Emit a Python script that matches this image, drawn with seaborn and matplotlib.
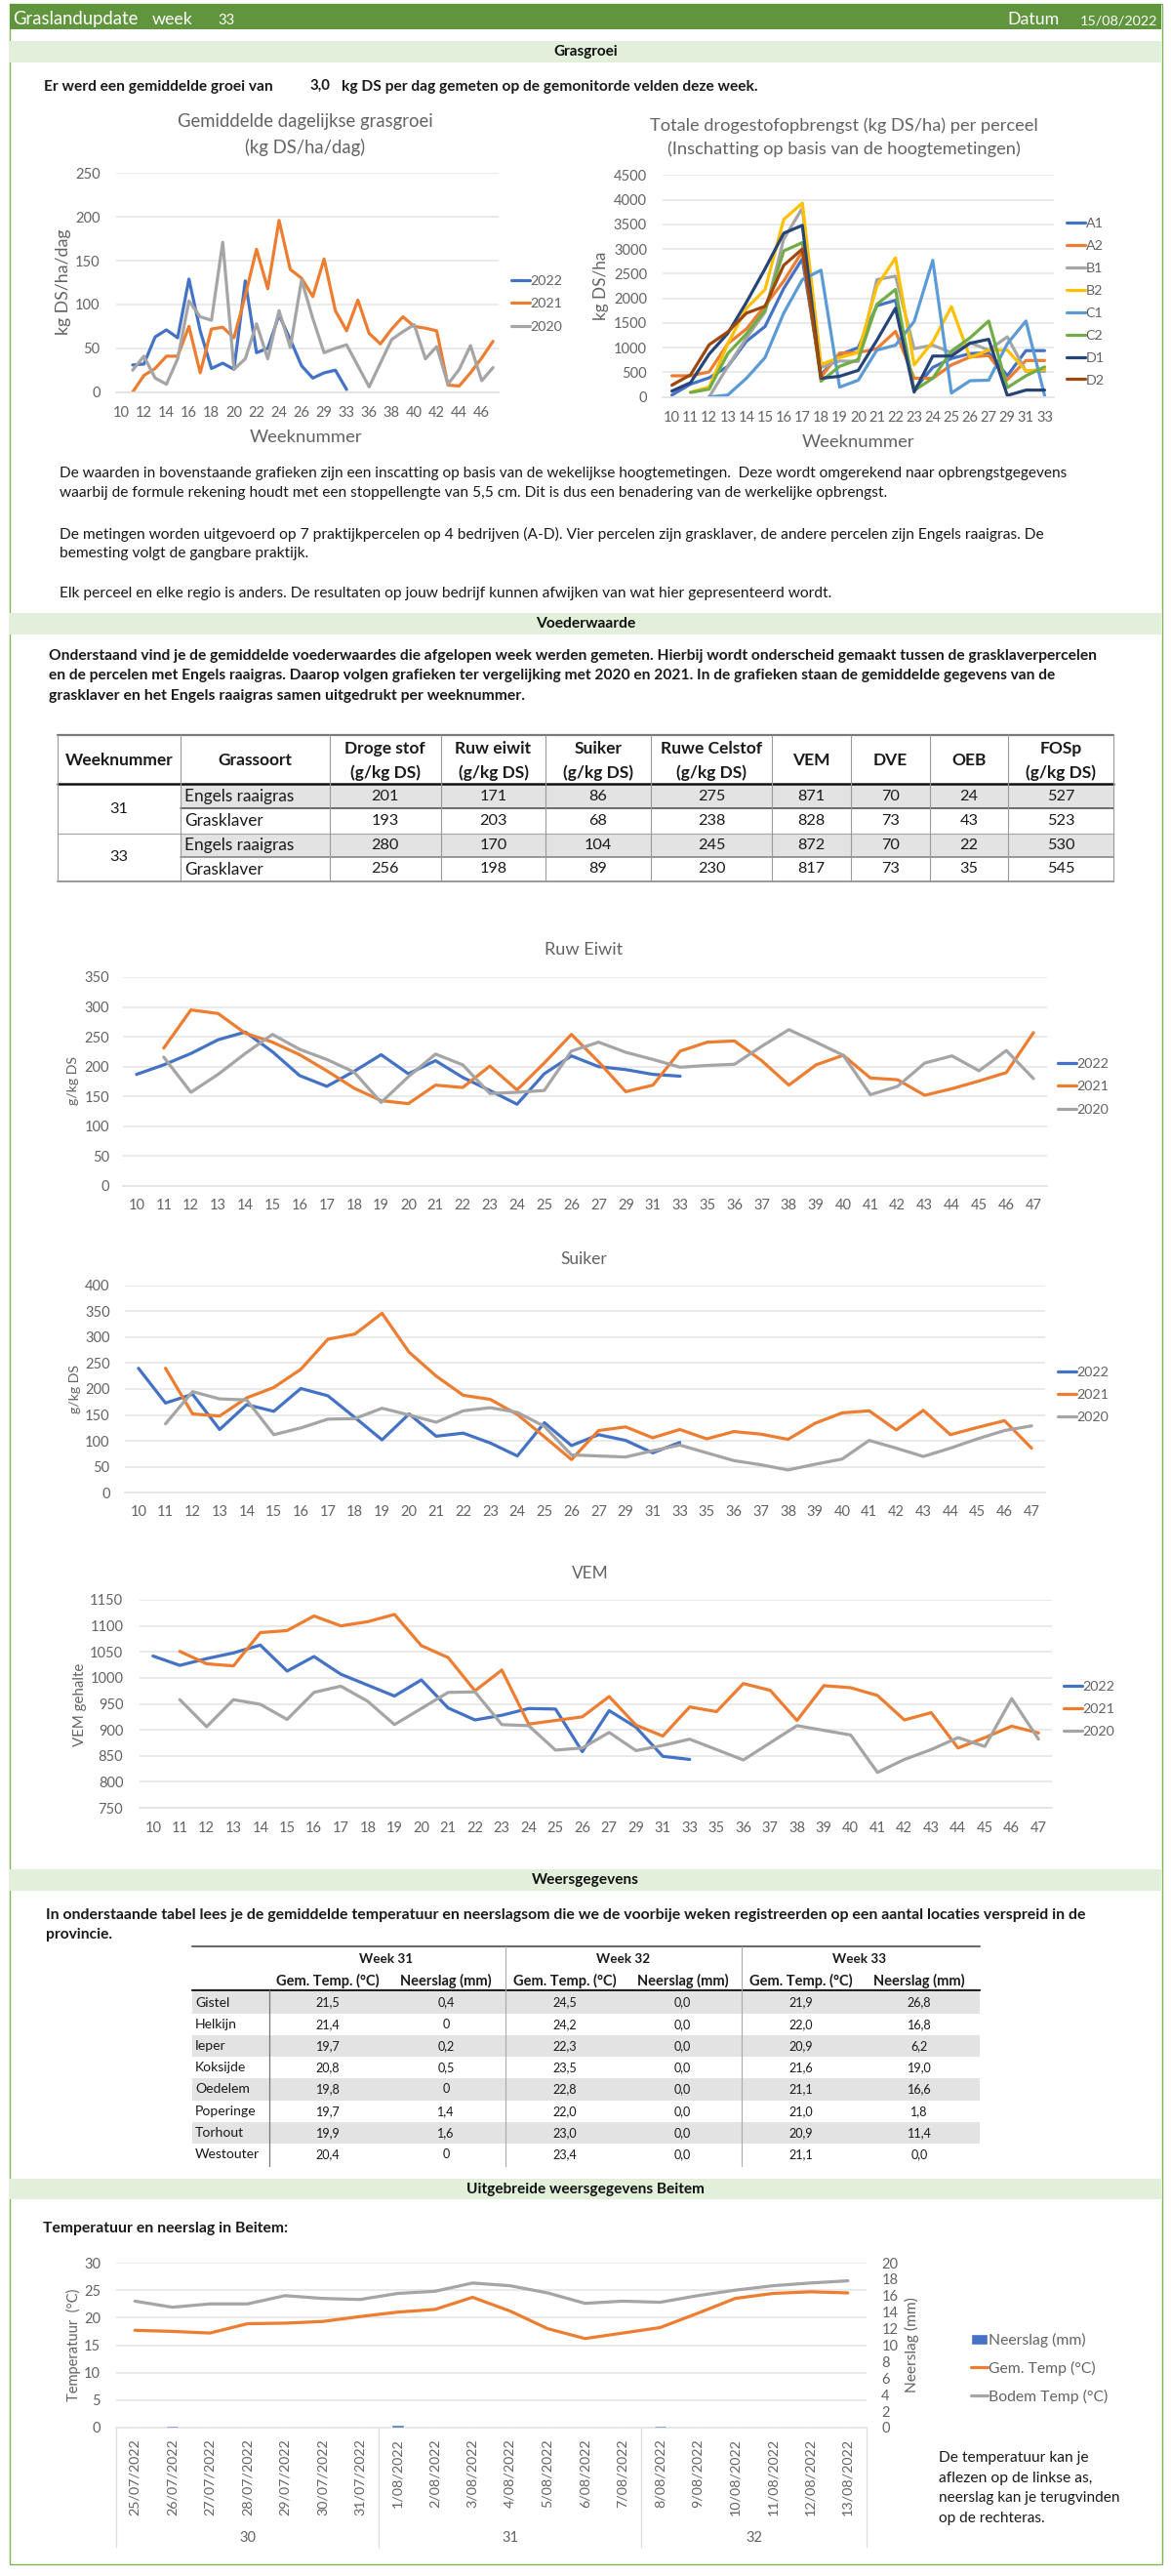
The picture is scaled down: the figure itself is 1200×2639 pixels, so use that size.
import numpy as np
import pandas as pd
import matplotlib
matplotlib.use("Agg")
import matplotlib.pyplot as plt
from matplotlib.patches import Rectangle
import seaborn as sns

# ---------- data ----------
WEEKS_ALL = ["10","11","12","13","14","15","16","17","18","19","20","21","22","23","24","25","26","27",
             "29","31","33","35","36","37","38","39","40","41","42","43","44","45","46","47"]
WEEKS_PERCEEL = WEEKS_ALL[:21]

GROEI_2022 = [None,31,32,63,71,62,129,70,27,33,26,127,45,50,88,60,30,16,22,25,3]
GROEI_2021 = [None,0,19,27,41,41,75,22,72,74,62,110,163,118,196,140,130,109,152,93,70,105,67,55,72,86,75,73,70,8,7,22,39,58]
GROEI_2020 = [None,25,41,16,9,38,104,86,82,171,26,38,78,38,93,51,128,84,45,50,54,30,6,33,60,69,77,38,52,9,26,53,13,28]

P_A1 = [40,260,390,620,1130,1430,2200,2800,450,860,1000,1850,1960,150,600,780,880,900,430,940,940]
P_A2 = [430,430,510,1080,1380,1850,2350,2950,400,890,900,980,1330,380,380,650,810,840,350,740,740]
P_B1 = [None,None,0,620,1200,1720,3200,3830,600,730,720,2380,2450,980,1050,900,1100,950,1220,520,520]
P_B2 = [None,100,200,1080,1800,2180,3600,3930,660,800,900,2250,2820,650,1120,1830,800,950,950,530,560]
P_C1 = [None,None,0,40,380,800,1700,2380,2570,200,340,950,1050,1530,2770,80,330,340,1080,1540,30]
P_C2 = [None,90,160,880,1280,1760,2960,3130,320,620,760,1880,2180,130,380,930,1200,1540,190,430,610]
P_D1 = [120,290,870,1290,1920,2600,3320,3480,380,420,540,1150,1800,100,830,830,1090,1170,30,140,140]
P_D2 = [240,450,1060,1320,1700,1840,2670,3000,400]

EIWIT_2022 = [187,203,222,245,258,225,185,167,192,220,188,210,182,160,137,188,218,200,195,187,184]
EIWIT_2021 = [None,231,295,289,256,241,220,193,164,143,138,169,165,201,161,206,254,208,158,169,226,241,243,210,169,203,219,181,178,152,163,176,190,257]
EIWIT_2020 = [None,216,157,187,222,254,229,212,191,140,183,221,203,155,157,160,226,241,224,212,199,202,204,234,262,241,219,153,167,206,218,193,227,180]

SUIKER_2022 = [240,173,190,122,170,157,201,187,145,102,152,109,115,96,71,135,91,112,101,77,97]
SUIKER_2021 = [None,240,152,148,183,203,238,296,306,346,271,225,188,180,151,108,64,120,127,106,122,104,118,113,103,134,154,158,121,159,112,126,139,86]
SUIKER_2020 = [None,133,195,181,179,112,125,142,143,163,150,136,158,164,155,128,73,71,69,81,92,77,62,54,44,55,65,101,86,70,86,104,120,129]

VEM_2022 = [1042,1024,1037,1048,1063,1013,1041,1007,986,965,996,942,919,928,941,940,858,937,905,849,843]
VEM_2021 = [None,1051,1027,1023,1087,1091,1119,1100,1108,1122,1062,1039,975,1015,911,918,925,964,909,888,944,935,989,976,918,985,981,966,919,933,865,885,907,894]
VEM_2020 = [None,958,906,958,949,920,972,984,955,910,941,972,973,910,908,861,865,895,860,870,882,862,842,875,908,899,890,818,843,862,885,868,960,882]

DATES = ["25/07/2022","26/07/2022","27/07/2022","28/07/2022","29/07/2022","30/07/2022","31/07/2022",
         "1/08/2022","2/08/2022","3/08/2022","4/08/2022","5/08/2022","6/08/2022","7/08/2022",
         "8/08/2022","9/08/2022","10/08/2022","11/08/2022","12/08/2022","13/08/2022"]
GEM_TEMP = [17.7,17.5,17.2,18.9,19.0,19.3,20.2,21.0,21.5,23.7,21.2,18.0,16.2,17.2,18.2,20.8,23.5,24.4,24.7,24.5]
BODEM_TEMP = [23.0,21.9,22.5,22.5,24.0,23.5,23.3,24.4,24.8,26.3,25.8,24.5,22.6,23.0,22.8,24.0,25.0,25.8,26.3,26.7]
NEERSLAG = [0,0.2,0,0,0,0,0,0.3,0,0,0,0,0,0,0.2,0,0,0,0,0]

VW_COLS = [("Droge stof","(g/kg DS)"),("Ruw eiwit","(g/kg DS)"),("Suiker","(g/kg DS)"),("Ruwe Celstof","(g/kg DS)"),
           ("VEM",),("DVE",),("OEB",),("FOSp","(g/kg DS)")]
VW_SORTS = ["Engels raaigras","Grasklaver","Engels raaigras","Grasklaver"]
VW_ROWS = [[201,171,86,275,871,70,24,527],[193,203,68,238,828,73,43,523],
           [280,170,104,245,872,70,22,530],[256,198,89,230,817,73,35,545]]

LOCATIES = ["Gistel","Helkijn","Ieper","Koksijde","Oedelem","Poperinge","Torhout","Westouter"]
WEER = [["21,5","0,4","24,5","0,0","21,9","26,8"],["21,4","0","24,2","0,0","22,0","16,8"],
        ["19,7","0,2","22,3","0,0","20,9","6,2"],["20,8","0,5","23,5","0,0","21,6","19,0"],
        ["19,8","0","22,8","0,0","21,1","16,6"],["19,7","1,4","22,0","0,0","21,0","1,8"],
        ["19,9","1,6","23,0","0,0","20,9","11,4"],["20,4","0","23,4","0,0","21,1","0,0"]]

# ---------- style ----------
sns.set_theme(style="white")
plt.rcParams["font.family"] = ["Lato", "DejaVu Sans"]
W, H = 1200, 2639
fig = plt.figure(figsize=(W/100, H/100), dpi=100, facecolor="white")
GRAY = "#636363"
BLUE, ORANGE, SILVER = "#4472C4", "#ED7D31", "#A5A5A5"
YEARS = {"2022": BLUE, "2021": ORANGE, "2020": SILVER}
PERC = {"A1": BLUE, "A2": ORANGE, "B1": SILVER, "B2": "#FFC000", "C1": "#5B9BD5", "C2": "#70AD47", "D1": "#264478", "D2": "#9E480E"}

bg = fig.add_axes([0, 0, 1, 1], zorder=0)
bg.set_xlim(0, W); bg.set_ylim(H, 0); bg.axis("off")
fig.canvas.draw()
rend = fig.canvas.get_renderer()


def size_for(s, width, weight="normal"):
    t = bg.text(0, 0, s, fontsize=10, fontweight=weight)
    w = t.get_window_extent(rend).width
    t.remove()
    return 10 * width / w


def tx(x, y, s, size=12, end=None, color="#1a1a1a", weight="normal", ha="left"):
    if end is not None:
        size = size_for(s, end - x, weight)
    return bg.text(x, y, s, fontsize=size, color=color, fontweight=weight, ha=ha, va="center")


def band(y0, y1, s, width):
    bg.add_patch(Rectangle((10, y0), 1180, y1 - y0, fc="#E2EFDA", ec="none"))
    tx(600, (y0 + y1) / 2, s, size=size_for(s, width, "bold"), weight="bold", ha="center", color="#111111")


def lines_plot(rect, cats, series, palette, ymax, ystep, ymin=0, lw=2.3, pad_y=11.5, pad_x=10, every=1):
    l, t, r, b = rect
    ax = fig.add_axes([l / W, 1 - b / H, (r - l) / W, (b - t) / H], zorder=2)
    ax.patch.set_alpha(0)
    rows = []
    for name, vals in series.items():
        full = list(vals) + [None] * (len(cats) - len(vals))
        rows.append(pd.DataFrame({"x": cats, "y": pd.to_numeric(pd.Series(full), errors="coerce"), "s": name}))
    df = pd.concat(rows, ignore_index=True)
    sns.lineplot(data=df, x="x", y="y", hue="s", hue_order=list(series), palette=palette,
                 estimator=None, sort=False, errorbar=None, linewidth=lw, ax=ax)
    ax.set_xlim(-0.5, len(cats) - 0.5)
    ax.set_ylim(ymin, ymax)
    ax.set_yticks(np.arange(ymin, ymax + 1, ystep))
    ax.set_xticks(range(0, len(cats), every))
    ax.set_xticklabels(cats[::every])
    ax.grid(axis="y", color="#EAEAEA", lw=1.4)
    ax.set_axisbelow(True)
    ax.tick_params(axis="y", length=0, pad=pad_y, labelsize=10.5, labelcolor=GRAY)
    ax.tick_params(axis="x", length=0, pad=pad_x, labelsize=10.5, labelcolor=GRAY)
    for k, sp in ax.spines.items():
        sp.set_visible(k == "bottom")
        sp.set_color("#E3E3E3")
    return ax


def labels(ax, title=None, tpos=None, twidth=None, tfit=None, xl=None, xpos=None, xwidth=115.6, yl=None, ypos=None, ywidth=None):
    ax.set_xlabel(""); ax.set_ylabel("")
    if title:
        size = size_for(tfit or title, twidth)
        t = ax.set_title(title, fontsize=size, color=GRAY, y=1.0, va="center", linespacing=1.55)
        t.set_transform(bg.transData)
        t.set_position(tpos)
    if xl:
        ax.set_xlabel(xl, fontsize=size_for(xl, xwidth), color=GRAY, va="center")
        ax.xaxis.set_label_coords(xpos[0], xpos[1], transform=bg.transData)
    if yl:
        ax.set_ylabel(yl, fontsize=size_for(yl, ywidth), color=GRAY, va="center", ha="center")
        ax.yaxis.set_label_coords(ypos[0], ypos[1], transform=bg.transData)


def legend(ax, x, y_first, pitch, size=10.3, hlen=19):
    px = size * 100 / 72
    sns.move_legend(ax, "upper left", bbox_to_anchor=(x / W, 1 - (y_first - px * 0.62) / H),
                    bbox_transform=fig.transFigure, frameon=False, title=None, fontsize=size,
                    labelspacing=(pitch - px) / px, handlelength=hlen / px, handletextpad=0.05,
                    borderpad=0, borderaxespad=0, labelcolor=GRAY)


# ---------- frame and header ----------
bg.add_patch(Rectangle((9.5, 4), 1181, 2623, fc="none", ec="#7DB35A", lw=1))
bg.add_patch(Rectangle((10, 4), 1180, 26, fc="#60953D", ec="none"))
tx(13, 20, "Graslandupdate", end=142, color="white")
tx(156, 20, "week", end=198, color="white")
tx(223, 21, "33", end=240, color="white")
tx(1032, 20, "Datum", end=1085, color="white")
tx(1107, 21, "15/08/2022", end=1187, color="white")

band(42, 64, "Grasgroei", 66)
tx(45, 89, "Er werd een gemiddelde groei van", end=281, weight="bold")
tx(317, 88, "3,0", end=338, weight="bold")
tx(350, 89, "kg DS per dag gemeten op de gemonitorde velden deze week.", end=779, weight="bold")

# ---------- chart 1 ----------
ax = lines_plot((118.6, 177.3, 511, 401.7), WEEKS_ALL,
                {"2022": GROEI_2022, "2021": GROEI_2021, "2020": GROEI_2020}, YEARS, 250, 50, every=2)
labels(ax, "Gemiddelde dagelijkse grasgroei\n(kg DS/ha/dag)", (313, 138), 263, "Gemiddelde dagelijkse grasgroei",
       xl="Weeknummer", xpos=(314, 448), yl="kg DS/ha/dag", ypos=(65, 289), ywidth=108)
legend(ax, 524, 291, 25.5)

# ---------- chart 2 ----------
ax = lines_plot((679, 179.3, 1080, 406.7), WEEKS_PERCEEL,
                {"A1": P_A1, "A2": P_A2, "B1": P_B1, "B2": P_B2, "C1": P_C1, "C2": P_C2, "D1": P_D1, "D2": P_D2},
                PERC, 4500, 500)
labels(ax, "Totale drogestofopbrengst (kg DS/ha) per perceel\n(Inschatting op basis van de hoogtemetingen)", (865, 140.5), 400,
       "Totale drogestofopbrengst (kg DS/ha) per perceel",
       xl="Weeknummer", xpos=(880, 453), yl="kg DS/ha", ypos=(616, 293), ywidth=70)
legend(ax, 1093, 232, 25.2)

# ---------- text ----------
tx(61, 485, "De waarden in bovenstaande grafieken zijn een inscatting op basis van de wekelijkse hoogtemetingen.  Deze wordt omgerekend naar opbrengstgegevens", end=1098)
tx(61, 505, "waarbij de formule rekening houdt met een stoppellengte van 5,5 cm. Dit is dus een benadering van de werkelijke opbrengst.", end=912)
tx(61, 547, "De metingen worden uitgevoerd op 7 praktijkpercelen op 4 bedrijven (A-D). Vier percelen zijn grasklaver, de andere percelen zijn Engels raaigras. De", end=1069)
tx(61, 567, "bemesting volgt de gangbare praktijk.", end=316)
tx(61, 608, "Elk perceel en elke regio is anders. De resultaten op jouw bedrijf kunnen afwijken van wat hier gepresenteerd wordt.", end=853)

band(628, 649.5, "Voederwaarde", 103)
tx(50.5, 672, "Onderstaand vind je de gemiddelde voederwaardes die afgelopen week werden gemeten. Hierbij wordt onderscheid gemaakt tussen de grasklaverpercelen", end=1133, weight="bold")
tx(50.5, 692, "en de percelen met Engels raaigras. Daarop volgen grafieken ter vergelijking met 2020 en 2021. In de grafieken staan de gemiddelde gegevens van de", end=1087, weight="bold")
tx(50.5, 713, "grasklaver en het Engels raaigras samen uitgedrukt per weeknummer.", end=537, weight="bold")

# ---------- table 1 ----------
TX = [59, 185, 337.5, 452, 559, 667, 791, 872, 953, 1033, 1141]
TY = [803, 828, 854, 878, 903]
HEAD = size_for("Weeknummer", 111, "bold")
BODY = size_for("Engels raaigras", 112)
NUM = size_for("201", 28.3)
for i in (0, 2):
    bg.add_patch(Rectangle((TX[1], TY[i]), TX[-1] - TX[1], TY[i + 1] - TY[i], fc="#E3E3E3", ec="none"))
bg.plot([TX[0], TX[-1]], [753, 753], color="#7a7a7a", lw=1.6)
bg.plot([TX[0], TX[-1]], [803, 803], color="#111111", lw=1.8)
bg.plot([TX[1], TX[-1]], [828, 828], color="#555555", lw=1.2)
bg.plot([TX[0], TX[-1]], [854, 854], color="#aaaaaa", lw=0.9)
bg.plot([TX[1], TX[-1]], [878, 878], color="#888888", lw=1.2)
bg.plot([TX[0], TX[-1]], [903, 903], color="#999999", lw=1.4)
for x in TX:
    bg.plot([x, x], [753, 903], color="#9a9a9a", lw=0.8)
tx((TX[0] + TX[1]) / 2, 779, "Weeknummer", size=HEAD, weight="bold", ha="center")
tx((TX[1] + TX[2]) / 2, 779, "Grassoort", size=HEAD, weight="bold", ha="center")
for i, col in enumerate(VW_COLS):
    cx = (TX[i + 2] + TX[i + 3]) / 2
    if len(col) == 2:
        tx(cx, 767, col[0], size=HEAD, weight="bold", ha="center")
        tx(cx, 792, col[1], size=HEAD, weight="bold", ha="center")
    else:
        tx(cx, 779, col[0], size=HEAD, weight="bold", ha="center")
tx((TX[0] + TX[1]) / 2, 829, "31", size=NUM, ha="center")
tx((TX[0] + TX[1]) / 2, 878, "33", size=NUM, ha="center")
for r, (sort, row) in enumerate(zip(VW_SORTS, VW_ROWS)):
    cy = (TY[r] + TY[r + 1]) / 2
    tx(189, cy, sort, size=BODY)
    for i, v in enumerate(row):
        tx((TX[i + 2] + TX[i + 3]) / 2, cy, str(v), size=NUM, ha="center")

# ---------- feed charts ----------
ax = lines_plot((126, 1001, 1073, 1215), WEEKS_ALL, {"2022": EIWIT_2022, "2021": EIWIT_2021, "2020": EIWIT_2020}, YEARS, 350, 50, pad_y=10, pad_x=9.5)
labels(ax, "Ruw Eiwit", (598, 973), 80, yl="g/kg DS", ypos=(75, 1107), ywidth=50)
legend(ax, 1084, 1093, 25.5)

ax = lines_plot((128, 1316.7, 1071, 1529.3), WEEKS_ALL, {"2022": SUIKER_2022, "2021": SUIKER_2021, "2020": SUIKER_2020}, YEARS, 400, 50, pad_y=11, pad_x=9.5)
labels(ax, "Suiker", (598, 1290), 48, yl="g/kg DS", ypos=(77, 1423), ywidth=50)
legend(ax, 1084, 1409, 25)

ax = lines_plot((143, 1639, 1078, 1852), WEEKS_ALL, {"2022": VEM_2022, "2021": VEM_2021, "2020": VEM_2020}, YEARS, 1150, 50, ymin=750, pad_y=12, pad_x=10)
labels(ax, "VEM", (605, 1612), 37.5, yl="VEM gehalte", ypos=(82, 1746), ywidth=85)
legend(ax, 1090, 1731, 25)

# ---------- weather table ----------
band(1915, 1937, "Weersgegevens", 110)
tx(47, 1962, "In onderstaande tabel lees je de gemiddelde temperatuur en neerslagsom die we de voorbije weken registreerden op een aantal locaties verspreid in de", end=1113, weight="bold")
tx(47, 1982, "provincie.", end=115, weight="bold")
WX0, WX1 = 197, 1004
COLX = [336, 457, 579, 699.5, 821, 942]
ROW0, ROWH = 2040.5, 22.22
WHEAD = size_for("Gem. Temp. (°C)", 106, "bold")
WLOC = size_for("Westouter", 66.6)
WNUM = size_for("21,5", 25)
for r in range(0, 8, 2):
    bg.add_patch(Rectangle((WX0, ROW0 + r * ROWH), WX1 - WX0, ROWH, fc="#E3E3E3", ec="none"))
bg.plot([WX0, WX1], [1994, 1994], color="#6a6a6a", lw=1.5)
bg.plot([WX0, WX1], [2039, 2039], color="#222222", lw=1.6)
bg.plot([275.5, 275.5], [2039, 2219], color="#777777", lw=0.9)
for x in (518, 760):
    bg.plot([x, x], [1994, 2219], color="#aaaaaa", lw=0.8)
for cx, wk in zip((396, 639, 881), ("Week 31", "Week 32", "Week 33")):
    tx(cx, 2007, wk, size=size_for("Week 31", 55, "bold"), weight="bold", ha="center")
for i, cx in enumerate(COLX):
    tx(cx, 2029, "Gem. Temp. (°C)" if i % 2 == 0 else "Neerslag (mm)", size=WHEAD, weight="bold", ha="center")
for r, (loc, row) in enumerate(zip(LOCATIES, WEER)):
    cy = ROW0 + (r + 0.5) * ROWH
    tx(200, cy, loc, size=WLOC)
    for cx, v in zip(COLX, row):
        tx(cx, cy, v, size=WNUM, ha="center")

# ---------- Beitem ----------
band(2232, 2253, "Uitgebreide weersgegevens Beitem", 245)
tx(44, 2283, "Temperatuur en neerslag in Beitem:", end=295, weight="bold")

ax = lines_plot((119, 2318, 888, 2487), DATES, {"Gem. Temp (°C)": GEM_TEMP, "Bodem Temp (°C)": BODEM_TEMP},
                {"Gem. Temp (°C)": ORANGE, "Bodem Temp (°C)": SILVER}, 30, 5, pad_y=11.5, pad_x=8)
labels(ax, yl="Temperatuur  (°C)", ypos=(75, 2402), ywidth=115)
ax.tick_params(axis="x", labelrotation=90, labelsize=size_for("25/07/2022", 79))
ax.get_legend().remove()

ax2 = ax.twinx()
ax2.patch.set_alpha(0)
sns.barplot(x=DATES, y=NEERSLAG, color=BLUE, saturation=1, width=0.35, label="Neerslag (mm)", ax=ax2, legend=False)
ax2.set_ylim(0, 20)
ax2.set_yticks(range(0, 21, 2))
ax2.grid(False)
ax2.tick_params(axis="y", length=0, pad=11, labelsize=10.5, labelcolor=GRAY)
for sp in ax2.spines.values():
    sp.set_visible(False)
ax2.set_ylabel("Neerslag (mm)", fontsize=size_for("Neerslag (mm)", 98), color=GRAY, va="center", ha="center")
ax2.yaxis.set_label_coords(934, 2402, transform=bg.transData)

h1, l1 = ax.get_legend_handles_labels()
h2, l2 = ax2.get_legend_handles_labels()
lsize = size_for("Neerslag (mm)", 99.5)
px = lsize * 100 / 72
leg = ax2.legend(h2 + h1, l2 + l1, loc="upper left", bbox_to_anchor=(995 / W, 1 - (2400 - px * 0.62) / H),
                 bbox_transform=fig.transFigure, frameon=False, fontsize=lsize,
                 labelspacing=(29.5 - px) / px, handlelength=17 / px, handletextpad=0.05,
                 borderpad=0, borderaxespad=0, labelcolor=GRAY)

# week grouping below the date axis
drop = (2610 - 2487) / (2487 - 2318)
ax.vlines([-0.5, 6.5, 13.5, 19.5], -drop, 0, transform=ax.get_xaxis_transform(), color="#DDDDDD", lw=0.9, clip_on=False)
for cx, wk in zip((3, 10, 16.5), ("30", "31", "32")):
    ax.text(cx, -(2600 - 2487) / (2487 - 2318), wk, transform=ax.get_xaxis_transform(), ha="center", va="center",
            fontsize=10.5, color=GRAY)

tx(962, 2518, "De temperatuur kan je", end=1115)
tx(962, 2539, "aflezen op de linkse as,", end=1119)
tx(962, 2559, "neerslag kan je terugvinden", end=1148)
tx(962, 2580, "op de rechteras.", end=1071)

fig.savefig("out.png", dpi=100, facecolor="white")
